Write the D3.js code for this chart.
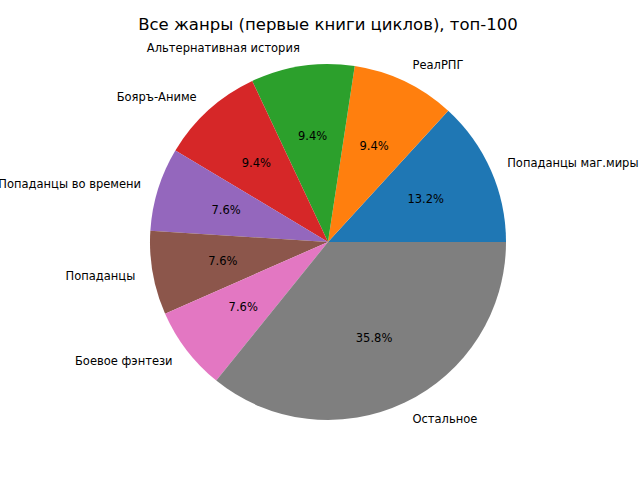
<!DOCTYPE html>
<html>
<head>
<meta charset="utf-8">
<style>
	body { margin: 0; background: #fff; }
	text { font-family: "DejaVu Sans", sans-serif; }
</style>
</head>
<body>
<div id="chart"></div>
<script src="https://cdn.jsdelivr.net/npm/d3@7/dist/d3.min.js"></script>
<script>
	'use strict'
	// genres and their share, percent
	const genres = ["Попаданцы маг.миры", "РеалРПГ", "Альтернативная история", "Бояръ-Аниме",
		"Попаданцы во времени", "Попаданцы", "Боевое фэнтези", "Остальное"]
	const shares = [13.2, 9.4, 9.4, 9.4, 7.6, 7.6, 7.6, 35.8]
	const colors = ["#1f77b4", "#ff7f0e", "#2ca02c", "#d62728", "#9467bd", "#8c564b", "#e377c2", "#7f7f7f"]
	const title = "Все жанры (первые книги циклов), топ-100"

	let w = 640, h = 480
	let cx = 328, cy = 242, r = 178

	let svg = d3.select('#chart').append('svg')
		.attr('width', w)
		.attr('height', h)

	svg.append('text')
		.attr('x', cx)
		.attr('y', 30)
		.attr('text-anchor', 'middle')
		.style('font-size', '16.5px')
		.text(title)

	let data = genres.map(function(g, i){ return {name: g, value: shares[i], color: colors[i]} })
	let total = d3.sum(shares)

	// matplotlib style: start at 3 o'clock, go counter-clockwise
	let pie = d3.pie().sort(null).value(function(d){ return d.value })
		.startAngle(Math.PI / 2)
		.endAngle(Math.PI / 2 - 2 * Math.PI)

	let arc = d3.arc().innerRadius(0).outerRadius(r)

	let g = svg.append('g').attr('transform', 'translate(' + cx + ',' + cy + ')')
	let arcs = pie(data)

	g.selectAll('path').data(arcs).enter().append('path')
		.attr('d', arc)
		.attr('fill', function(d){ return d.data.color })

	function pos(d, k){
		let a = (d.startAngle + d.endAngle) / 2
		return [Math.sin(a) * r * k, -Math.cos(a) * r * k]
	}

	g.selectAll('.lbl').data(arcs).enter().append('text')
		.attr('class', 'lbl')
		.attr('x', function(d){ return pos(d, 1.1)[0] })
		.attr('y', function(d){ return pos(d, 1.1)[1] })
		.attr('dy', '0.35em')
		.attr('text-anchor', function(d){ return pos(d, 1.1)[0] > 0 ? 'start' : 'end' })
		.style('font-size', '11.5px')
		.text(function(d){ return d.data.name })

	g.selectAll('.pct').data(arcs).enter().append('text')
		.attr('class', 'pct')
		.attr('x', function(d){ return pos(d, 0.6)[0] })
		.attr('y', function(d){ return pos(d, 0.6)[1] })
		.attr('dy', '0.35em')
		.attr('text-anchor', 'middle')
		.style('font-size', '11.5px')
		.text(function(d){ return (d.data.value / total * 100).toFixed(1) + '%' })
</script>
</body>
</html>
